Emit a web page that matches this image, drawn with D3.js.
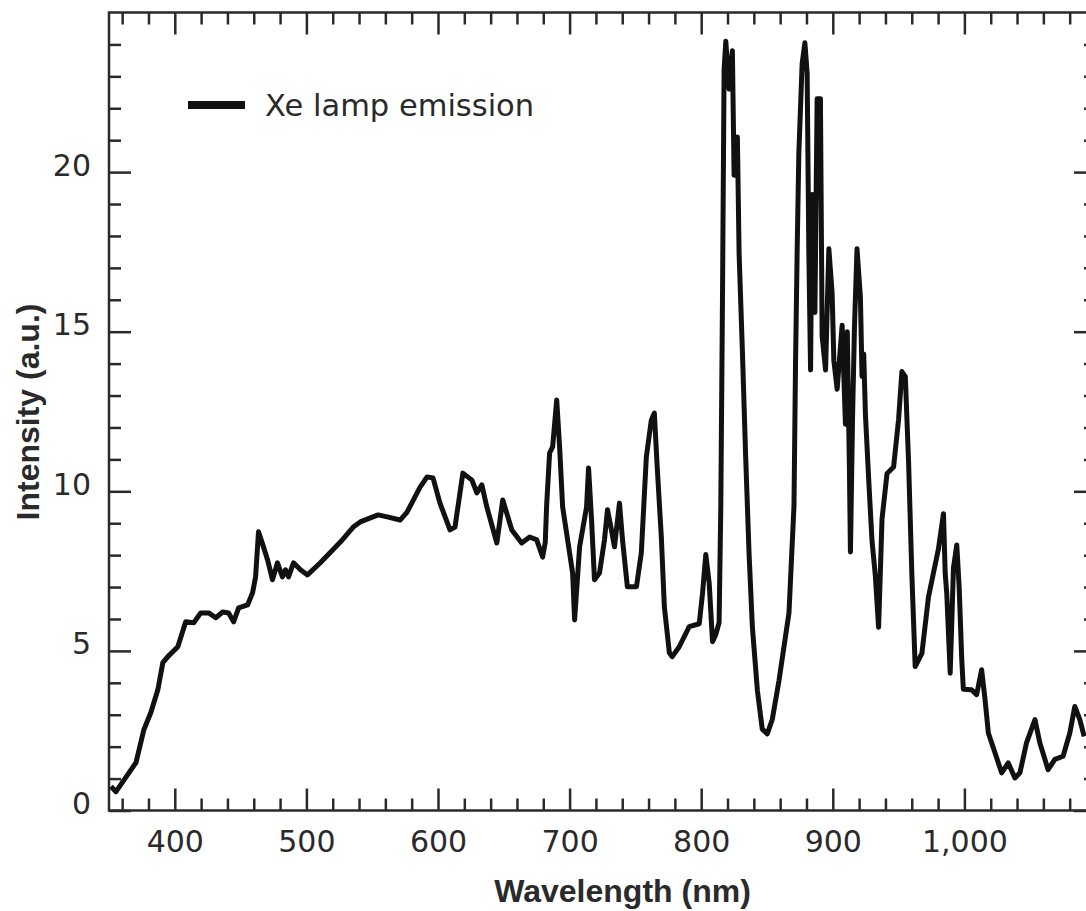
<!DOCTYPE html>
<head>
  <title>Xe lamp emission</title>
  <meta charset="utf-8">
<style>
body, html {
    margin: 0;
    padding: 0;
    background: #fff;
}
svg {
    display: block;
}
.tick text {
    font-family: "DejaVu Sans", sans-serif;
    font-size: 30px;
    fill: #2a2a2a;
}
.tick line {
    stroke: #2a2a2a;
    stroke-width: 2.5px;
}
.frame {
    fill: none;
    stroke: #2a2a2a;
    stroke-width: 2.5px;
}
.line {
    fill: none;
    stroke: #111;
    stroke-width: 5px;
    stroke-linejoin: round;
}
.title {
    font-family: "Liberation Sans", Arial, sans-serif;
    font-weight: bold;
    font-size: 32px;
    fill: #2a2a2a;
}
.legend text {
    font-family: "DejaVu Sans", sans-serif;
    font-size: 30.5px;
    fill: #2a2a2a;
}
</style>
</head>
<body>
<div id="chart"></div>
<script src="https://d3js.org/d3.v7.min.js"></script>
<script type="text/javascript">

// spectrum
var wavelength = [351.5, 355.3, 370.5, 376.5, 381.8, 387.1, 390.9, 394.7, 402.3, 408.3,
  414.4, 419.7, 425.8, 431.1, 436.4, 440.9, 444.7, 448.5, 455.3, 459.1,
  461.4, 463.6, 467.4, 470.5, 474.2, 478.0, 481.8, 484.1, 486.4, 490.2,
  495.5, 500.8, 510.6, 525.8, 535.6, 540.9, 554.5, 561.4, 571.2, 576.5,
  586.4, 591.7, 596.2, 601.5, 609.1, 612.9, 618.9, 625.8, 629.5, 633.3,
  637.1, 644.7, 649.2, 656.1, 663.6, 669.7, 675.0, 679.5, 681.5, 682.6,
  684.8, 687.1, 690.2, 692.4, 694.7, 698.5, 702.3, 703.8, 707.6, 712.9,
  714.4, 716.7, 718.9, 722.7, 726.5, 728.8, 731.8, 734.1, 737.9, 740.2,
  743.9, 750.8, 754.5, 758.3, 762.1, 764.4, 766.7, 769.7, 772.0, 775.8,
  778.0, 783.3, 790.9, 798.5, 801.0, 803.5, 806.1, 808.6, 811.0, 813.6,
  814.9, 816.2, 817.4, 818.7, 821.2, 823.7, 825.0, 827.5, 828.8, 831.3,
  833.8, 836.4, 838.9, 842.7, 846.4, 850.2, 854.0, 859.1, 866.7, 870.5,
  871.7, 873.0, 874.2, 876.7, 878.8, 880.5, 881.8, 883.1, 884.3, 886.4,
  888.1, 890.6, 891.9, 894.5, 897.0, 899.5, 900.8, 903.3, 907.1, 909.6,
  911.0, 912.6, 913.4, 915.0, 916.5, 918.4, 921.0, 922.2, 923.5, 924.8,
  927.3, 929.8, 932.3, 934.8, 937.4, 941.2, 946.2, 950.0, 952.5, 955.1,
  957.6, 960.1, 962.6, 967.7, 972.7, 980.3, 984.1, 985.4, 986.6, 989.2,
  991.7, 994.2, 996.0, 998.0, 999.2, 1005.5, 1009.3, 1013.1, 1015.7, 1018.2,
  1023.3, 1028.3, 1033.3, 1038.4, 1042.2, 1047.2, 1053.6, 1057.3, 1063.6, 1068.7,
  1075.0, 1080.1, 1083.9, 1087.7, 1091.0];
var intensity = [0.75, 0.59, 1.50, 2.53, 3.07, 3.78, 4.63, 4.82, 5.13, 5.91,
  5.88, 6.19, 6.19, 6.04, 6.22, 6.19, 5.91, 6.35, 6.44, 6.82,
  7.32, 8.73, 8.26, 7.85, 7.23, 7.76, 7.32, 7.54, 7.32, 7.76,
  7.54, 7.38, 7.76, 8.41, 8.88, 9.04, 9.26, 9.20, 9.10, 9.35,
  10.13, 10.45, 10.42, 9.63, 8.79, 8.88, 10.57, 10.35, 9.95, 10.20,
  9.51, 8.38, 9.73, 8.79, 8.38, 8.57, 8.48, 7.94, 8.40, 9.60,
  11.20, 11.39, 12.86, 11.39, 9.51, 8.48, 7.44, 5.97, 8.26, 9.51,
  10.73, 9.10, 7.23, 7.44, 8.48, 9.42, 8.79, 8.26, 9.63, 8.48,
  7.01, 7.01, 8.07, 11.07, 12.23, 12.45, 10.67, 8.57, 6.38, 4.94,
  4.82, 5.13, 5.76, 5.85, 6.80, 8.02, 7.11, 5.29, 5.50, 5.89,
  9.54, 16.2, 23.2, 24.1, 22.6, 23.8, 19.9, 21.1, 17.45, 14.4,
  11.07, 8.02, 5.74, 3.76, 2.55, 2.40, 2.85, 4.07, 6.19, 9.54,
  14.1, 17.75, 20.6, 23.4, 24.05, 23.1, 17.45, 13.8, 19.3, 15.6,
  22.3, 22.3, 14.86, 13.8, 17.6, 16.2, 14.1, 13.2, 15.2, 12.1,
  15.0, 10.8, 8.1, 12.3, 15.2, 17.6, 16.05, 13.6, 14.3, 12.4,
  10.35, 8.45, 7.37, 5.74, 9.13, 10.56, 10.76, 12.26, 13.75, 13.6,
  10.9, 7.37, 4.51, 4.92, 6.69, 8.2, 9.3, 7.44, 6.8, 4.3,
  7.6, 8.32, 7.02, 4.72, 3.8, 3.78, 3.63, 4.41, 3.47, 2.43,
  1.80, 1.18, 1.49, 1.02, 1.18, 2.12, 2.85, 2.12, 1.28, 1.60,
  1.70, 2.43, 3.26, 2.85, 2.32];

var xMajor = [400, 500, 600, 700, 800, 900, 1000];
var yMajor = [0, 5, 10, 15, 20];
var seriesName = "Xe lamp emission";
var xTitle = "Wavelength (nm)";
var yTitle = "Intensity (a.u.)";

var width = 1086, height = 911;
var plotLeft = 109, plotRight = 1096, plotTop = 12.5, plotBottom = 810.5;
var major = 22, minor = 12;

var svg = d3.select("#chart")
    .append("svg")
    .attr("width", width)
    .attr("height", height);

var x = d3.scaleLinear().domain([350, 1100]).range([plotLeft, plotRight]);
var y = d3.scaleLinear().domain([0, 25]).range([plotBottom, plotTop]);

var xMinor = d3.range(360, 1100, 20).filter(function(d) { return d % 100 !== 0; });
var yMinor = d3.range(1, 25).filter(function(d) { return d % 5 !== 0; });
var fmt = d3.format(",");

// ticks all point inward, labels only on bottom and left
function addAxis(axis, tx, ty) {
  var g = svg.append("g")
      .attr("transform", "translate(" + tx + "," + ty + ")")
      .call(axis);
  g.select(".domain").remove();
  return g;
}

addAxis(d3.axisBottom(x).tickValues(xMajor).tickSize(-major).tickPadding(20).tickFormat(fmt), 0, plotBottom);
addAxis(d3.axisBottom(x).tickValues(xMinor).tickSize(-minor).tickFormat(""), 0, plotBottom);
addAxis(d3.axisTop(x).tickValues(xMajor).tickSize(-major).tickFormat(""), 0, plotTop);
addAxis(d3.axisTop(x).tickValues(xMinor).tickSize(-minor).tickFormat(""), 0, plotTop);

var yl = addAxis(d3.axisLeft(y).tickValues(yMajor).tickSize(-major).tickPadding(18), plotLeft, 0);
yl.selectAll("text").attr("dy", "0.1em");
addAxis(d3.axisLeft(y).tickValues(yMinor).tickSize(-minor).tickFormat(""), plotLeft, 0);
addAxis(d3.axisRight(y).tickValues(yMajor).tickSize(-major).tickFormat(""), plotRight, 0);
addAxis(d3.axisRight(y).tickValues(yMinor).tickSize(-minor).tickFormat(""), plotRight, 0);

svg.append("rect")
    .attr("class", "frame")
    .attr("x", plotLeft)
    .attr("y", plotTop)
    .attr("width", plotRight - plotLeft)
    .attr("height", plotBottom - plotTop);

svg.append("clipPath")
    .attr("id", "plot")
  .append("rect")
    .attr("x", plotLeft)
    .attr("y", plotTop)
    .attr("width", plotRight - plotLeft)
    .attr("height", plotBottom - plotTop);

var data = wavelength.map(function(w, i) { return {w: w, v: intensity[i]}; });

var valueline = d3.line()
    .x(function(d) { return x(d.w); })
    .y(function(d) { return y(d.v); });

svg.append("path")
    .datum(data)
    .attr("class", "line")
    .attr("clip-path", "url(#plot)")
    .attr("d", valueline);

// legend
var legend = svg.append("g").attr("class", "legend");
legend.append("line")
    .attr("x1", 188).attr("x2", 245)
    .attr("y1", 105).attr("y2", 105)
    .attr("stroke", "#111")
    .attr("stroke-width", 8);
legend.append("text")
    .attr("x", 265)
    .attr("y", 116)
    .text(seriesName);

// axis titles
svg.append("text")
    .attr("class", "title")
    .attr("x", (plotLeft + plotRight) / 2 + 20)
    .attr("y", 902)
    .attr("text-anchor", "middle")
    .text(xTitle);

svg.append("text")
    .attr("class", "title")
    .attr("transform", "translate(39," + 412 + ") rotate(-90)")
    .attr("text-anchor", "middle")
    .text(yTitle);

</script>
</body>
